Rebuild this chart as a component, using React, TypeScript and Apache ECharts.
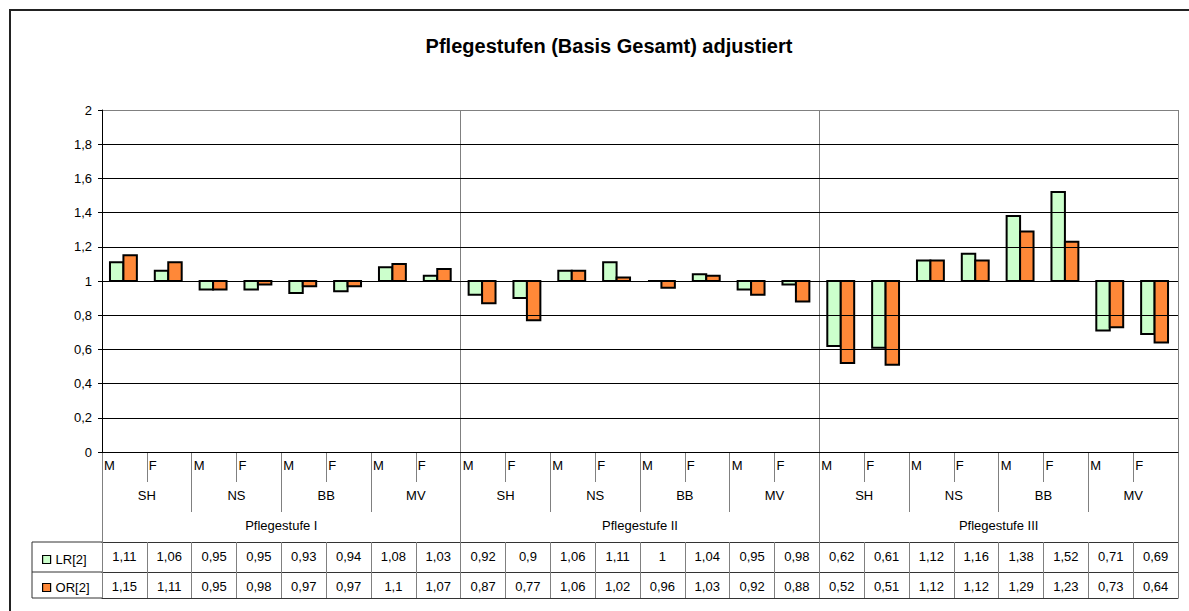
import React, { useEffect, useRef } from "react";
import * as echarts from "echarts";

// ---- data ----
const genders = ["M", "F"];
const regions = ["SH", "NS", "BB", "MV"];
const groups = ["Pflegestufe I", "Pflegestufe II", "Pflegestufe III"];
const seriesNames = ["LR[2]", "OR[2]"];
const lrValues = [
  1.11, 1.06, 0.95, 0.95, 0.93, 0.94, 1.08, 1.03,
  0.92, 0.9, 1.06, 1.11, 1, 1.04, 0.95, 0.98,
  0.62, 0.61, 1.12, 1.16, 1.38, 1.52, 0.71, 0.69,
];
const orValues = [
  1.15, 1.11, 0.95, 0.98, 0.97, 0.97, 1.1, 1.07,
  0.87, 0.77, 1.06, 1.02, 0.96, 1.03, 0.92, 0.88,
  0.52, 0.51, 1.12, 1.12, 1.29, 1.23, 0.73, 0.64,
];
const yMin = 0;
const yMax = 2;
const yInterval = 0.2;
const baseline = 1;
const title = "Pflegestufen (Basis Gesamt) adjustiert";

// ---- derived ----
const categories: string[] = [];
const regionCats: string[] = [];
groups.forEach(() => {
  regions.forEach((r) => {
    regionCats.push(r);
    genders.forEach((g) => categories.push(g));
  });
});

const fmt = (v: number) => String(Math.round(v * 100) / 100).replace(".", ",");

// ---- layout ----
const W = 1189;
const H = 611;
const GL = 102;
const GR = 1178;
const GT = 110;
const GB = 452;
const ROW1 = 542;
const ROW2 = 572;
const ROW3 = 598;
const TABLE_LEFT = 32;
const FONT = "'Liberation Sans', Arial, sans-serif";
const GREEN = "#CCFFCC";
const ORANGE = "#FF8838";
const GRAY = "#808080";
const FS = 13;

export default function App() {
  const ref = useRef<HTMLDivElement>(null);

  useEffect(() => {
    if (!ref.current) return;
    const chart = echarts.init(ref.current, null, { renderer: "svg" });

    const makeBar = (name: string, values: number[], side: number, fill: string) => ({
      type: "custom",
      name,
      xAxisIndex: 0,
      yAxisIndex: 0,
      data: values.map((v, i) => [i, v]),
      encode: { x: 0, y: 1 },
      itemStyle: { color: fill, borderColor: "#000", borderWidth: 1 },
      renderItem: (params: any, api: any) => {
        const idx = api.value(0);
        const v = api.value(1);
        const b = api.coord([idx, baseline]);
        const t = api.coord([idx, v]);
        const band = api.size([1, 0])[0];
        const bw = band * 0.3;
        const cx = b[0] - 1;
        const x = side === 0 ? cx - bw : cx;
        const y = Math.min(b[1], t[1]);
        const h = Math.abs(b[1] - t[1]);
        return {
          type: "rect",
          shape: { x, y, width: bw, height: h },
          style: { fill, stroke: "#000", lineWidth: 2 },
        };
      },
      z: 3,
    });

    const lblStyle = { color: "#000", fontFamily: FONT, fontSize: FS };

    const option: any = {
      animation: false,
      backgroundColor: "#fff",
      textStyle: { fontFamily: FONT },
      title: {
        text: title,
        left: 604,
        textAlign: "center",
        top: 31,
        textStyle: { fontFamily: FONT, fontSize: 20, fontWeight: "bold", color: "#000" },
      },
      legend: {
        orient: "vertical",
        left: 37,
        top: 548,
        itemWidth: 8,
        itemHeight: 8,
        itemGap: 15,
        icon: "rect",
        selectedMode: false,
        textStyle: { fontFamily: FONT, fontSize: FS, color: "#000" },
        data: [
          { name: seriesNames[0], itemStyle: { color: GREEN, borderColor: "#000", borderWidth: 1.2 } },
          { name: seriesNames[1], itemStyle: { color: ORANGE, borderColor: "#000", borderWidth: 1.2 } },
        ],
      },
      grid: { left: GL, right: W - GR, top: GT, bottom: H - GB, containLabel: false },
      yAxis: {
        type: "value",
        min: yMin,
        max: yMax,
        interval: yInterval,
        z: 5,
        axisLine: { show: true, lineStyle: { color: "#000", width: 1 } },
        axisTick: { show: true, length: 4, lineStyle: { color: "#000" } },
        axisLabel: {
          ...lblStyle,
          margin: 10,
          formatter: (v: number) => fmt(v),
        },
        splitLine: {
          show: true,
          lineStyle: {
            color: ["#000", "#000", "#000", "#000", "#000", "#000", "#000", "#000", "#000", "#000", GRAY],
            width: 1,
          },
        },
      },
      xAxis: [
        // 0: axis for bars + baseline line at 0
        {
          type: "category",
          data: categories,
          position: "bottom",
          boundaryGap: true,
          z: 4,
          axisLine: { show: true, lineStyle: { color: "#000", width: 1 } },
          axisTick: { show: false },
          axisLabel: { show: false },
          splitLine: { show: false },
        },
        // 1: M/F labels at boundaries
        {
          type: "category",
          data: [...categories, ""],
          position: "bottom",
          boundaryGap: false,
          axisLine: { show: false },
          axisTick: { show: true, interval: 0, length: 30, lineStyle: { color: GRAY } },
          axisLabel: { ...lblStyle, interval: 0, align: "left", margin: 7, padding: [0, 0, 0, 2] },
          splitLine: { show: false },
        },
        // 2: regions
        {
          type: "category",
          data: regionCats,
          position: "bottom",
          boundaryGap: true,
          axisLine: { show: false },
          axisTick: { show: true, interval: 0, length: 60, lineStyle: { color: GRAY } },
          axisLabel: { ...lblStyle, interval: 0, margin: 37 },
          splitLine: { show: false },
        },
        // 3: groups
        {
          type: "category",
          data: groups,
          position: "bottom",
          boundaryGap: true,
          axisLine: { show: false },
          axisTick: { show: true, interval: 0, length: ROW3 - GB, lineStyle: { color: GRAY } },
          axisLabel: { ...lblStyle, interval: 0, margin: 67 },
          splitLine: { show: true, interval: 0, lineStyle: { color: GRAY, width: 1 } },
        },
        // 4: LR row
        {
          type: "category",
          data: lrValues.map(fmt),
          position: "bottom",
          offset: ROW1 - GB,
          boundaryGap: true,
          axisLine: { show: true, lineStyle: { color: "#333", width: 1 } },
          axisTick: { show: true, interval: 0, length: ROW3 - ROW1, lineStyle: { color: GRAY } },
          axisLabel: { ...lblStyle, interval: 0, margin: 8 },
          splitLine: { show: false },
        },
        // 5: OR row
        {
          type: "category",
          data: orValues.map(fmt),
          position: "bottom",
          offset: ROW2 - GB,
          boundaryGap: true,
          axisLine: { show: true, lineStyle: { color: "#333", width: 1 } },
          axisTick: { show: false },
          axisLabel: { ...lblStyle, interval: 0, margin: 8 },
          splitLine: { show: false },
        },
        // 6: table bottom line
        {
          type: "category",
          data: categories,
          position: "bottom",
          offset: ROW3 - GB,
          boundaryGap: true,
          axisLine: { show: true, lineStyle: { color: "#333", width: 1 } },
          axisTick: { show: false },
          axisLabel: { show: false },
          splitLine: { show: false },
        },
      ],
      series: [
        makeBar(seriesNames[0], lrValues, 0, GREEN),
        makeBar(seriesNames[1], orValues, 1, ORANGE),
      ],
      graphic: [
        {
          type: "rect",
          silent: true,
          shape: { x: 10, y: 10, width: W + 20, height: H + 20 },
          style: { fill: "none", stroke: "#222", lineWidth: 2 },
          z: 10,
        },
        {
          type: "line",
          silent: true,
          shape: { x1: TABLE_LEFT, y1: ROW1, x2: GL, y2: ROW1 },
          style: { stroke: "#333", lineWidth: 1 },
        },
        {
          type: "line",
          silent: true,
          shape: { x1: TABLE_LEFT, y1: ROW2, x2: GL, y2: ROW2 },
          style: { stroke: "#333", lineWidth: 1 },
        },
        {
          type: "line",
          silent: true,
          shape: { x1: TABLE_LEFT, y1: ROW3, x2: GL, y2: ROW3 },
          style: { stroke: "#333", lineWidth: 1 },
        },
        {
          type: "line",
          silent: true,
          shape: { x1: TABLE_LEFT, y1: ROW1, x2: TABLE_LEFT, y2: ROW3 },
          style: { stroke: "#333", lineWidth: 1 },
        },
      ],
    };

    chart.setOption(option);
    return () => chart.dispose();
  }, []);

  return (
    <div
      ref={ref}
      style={{ position: "fixed", left: 0, top: 0, width: W, height: H, background: "#fff" }}
    />
  );
}
